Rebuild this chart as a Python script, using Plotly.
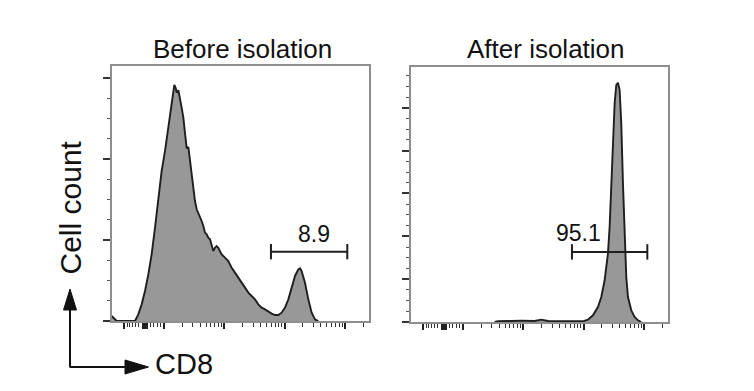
import numpy as np
import plotly.graph_objects as go

# ---------------- data ----------------
# x in display units of a logicle-like CD8 axis (decade k at x = k)
BEFORE_X = [1.132, 1.176, 1.215, 1.519, 1.574, 1.630, 1.685, 1.740, 1.795, 1.851, 1.906, 1.961,
            2.017, 2.072, 2.127, 2.155, 2.171, 2.193, 2.210, 2.238, 2.265, 2.293, 2.321, 2.348,
            2.376, 2.404, 2.431, 2.459, 2.486, 2.514, 2.542, 2.569, 2.597, 2.625, 2.652, 2.680,
            2.708, 2.735, 2.763, 2.790, 2.818, 2.846, 2.873, 2.901, 2.929, 2.956, 3.011, 3.067,
            3.094, 3.122, 3.177, 3.233, 3.288, 3.343, 3.399, 3.454, 3.509, 3.564, 3.620, 3.675,
            3.730, 3.786, 3.841, 3.896, 3.951, 4.007, 4.062, 4.117, 4.173, 4.228, 4.256, 4.283,
            4.338, 4.394, 4.449, 4.504, 4.559]
BEFORE_Y = [6.2, 3.3, 0, 0, 8.2, 20.6, 37, 57.6, 82.3, 115.2, 148.1, 185.2,
            209.9, 238.7, 267.5, 284, 291.4, 288, 281.9, 284.8, 275.7, 263.4, 251, 230.5,
            213.2, 214.8, 197.5, 181.1, 164.6, 148.1, 137.9, 133.7, 129.6, 123.5, 117.3, 109.1,
            107, 102.9, 100.8, 92.6, 86.4, 90.5, 92.6, 90.5, 86.4, 82.3, 78.2, 74.1,
            70, 65.8, 59.7, 53.5, 47.3, 41.2, 35, 30.9, 26.7, 20.6, 16.5, 14.4,
            11.5, 9.1, 7.4, 7.4, 10.3, 16.5, 26.7, 41.2, 55.6, 63.8, 65, 61.7,
            47.3, 26.7, 10.3, 2, 0]

AFTER_X = [2.525, 2.580, 2.801, 2.967, 3.188, 3.298, 3.409, 3.630, 3.851, 3.990, 4.072, 4.155,
           4.238, 4.294, 4.349, 4.404, 4.432, 4.459, 4.487, 4.515, 4.542, 4.570, 4.598, 4.625,
           4.653, 4.681, 4.708, 4.736, 4.791, 4.846, 4.902, 4.957]
AFTER_Y = [0, 1.6, 2.3, 3.1, 2.3, 5.5, 2.3, 2.3, 1.6, 1.6, 5.5, 15.6,
           35, 58.4, 97.4, 159.7, 222, 307.6, 408.9, 510.1, 553, 558.4, 541.3, 463.4,
           323.2, 190.8, 105.1, 58.4, 27.3, 11.7, 3.9, 0]

GATE_BEFORE_X = [3.774, 5.040]
GATE_BEFORE_Y = [85.6, 85.6]
GATE_AFTER_X = [3.807, 5.057]
GATE_AFTER_Y = [163.6, 163.6]

LABEL_BEFORE = "8.9"
LABEL_BEFORE_POS = (4.487, 108)
LABEL_AFTER = "95.1"
LABEL_AFTER_POS = (3.912, 207)

TITLES = ["Before isolation", "After isolation"]
Y_LABEL = "Cell count"
X_LABEL = "CD8"

# axis ticks
X_MAJOR = [1.337, 1.650, 1.667, 1.684, 1.701, 1.718, 2, 3, 4, 5]
X_MINOR_LOW = [1.393, 1.436, 1.476, 1.531, 1.575, 1.779, 1.834, 1.891, 1.945]
X_RANGE = [1.1376, 5.40]
Y_RANGE_BEFORE = [0, 314.8]
Y_RANGE_AFTER = [0, 595]

x_minor = list(X_MINOR_LOW)
for k in (2, 3, 4):
    for m in range(2, 10):
        x_minor.append(k + float(np.log10(m)))
x_minor.append(5 + float(np.log10(2)))

# ---------------- layout geometry (window pixels) ----------------
PAGE_W, PAGE_H = 754, 391
BODY = 8  # default page margin around the plot div
W, H = PAGE_W - BODY, PAGE_H - BODY
def PX(px):
    return (px - BODY) / W
def PY(py):
    return 1 - (py - BODY) / H

FONT = "Liberation Sans, Arial, sans-serif"
FILL = "#989898"
LINE = "#1e1e1e"

fig = go.Figure()

fig.add_trace(go.Scatter(x=BEFORE_X, y=BEFORE_Y, mode="lines", fill="tozeroy",
                         fillcolor=FILL, line=dict(color=LINE, width=1.9),
                         xaxis="x", yaxis="y", hoverinfo="skip"))
fig.add_trace(go.Scatter(x=AFTER_X, y=AFTER_Y, mode="lines", fill="tozeroy",
                         fillcolor=FILL, line=dict(color=LINE, width=1.9),
                         xaxis="x2", yaxis="y2", hoverinfo="skip"))

gate_style = dict(mode="lines+markers", line=dict(color=LINE, width=2),
                  marker=dict(symbol="line-ns-open", size=11,
                              line=dict(color=LINE, width=2), color=LINE),
                  hoverinfo="skip")
fig.add_trace(go.Scatter(x=GATE_BEFORE_X, y=GATE_BEFORE_Y, xaxis="x", yaxis="y", **gate_style))
fig.add_trace(go.Scatter(x=GATE_AFTER_X, y=GATE_AFTER_Y, xaxis="x2", yaxis="y2", **gate_style))

def xaxis_cfg(domain):
    return dict(domain=domain, range=X_RANGE, showgrid=False, zeroline=False,
                showline=True, linecolor="#8e8e8e", linewidth=2, mirror=True,
                ticks="outside", ticklen=6, tickwidth=2, tickcolor="#222",
                tickmode="array", tickvals=X_MAJOR, showticklabels=False,
                minor=dict(tickmode="array", tickvals=x_minor, ticks="outside",
                           ticklen=3.5, tickwidth=1.3, tickcolor="#333", showgrid=False),
                layer="below traces", fixedrange=True)

def yaxis_cfg(domain, rng, anchor, majors):
    return dict(domain=domain, range=rng, anchor=anchor, showgrid=False, zeroline=False,
                showline=True, linecolor="#8e8e8e", linewidth=2, mirror=True,
                ticks="outside", ticklen=7, tickwidth=2, tickcolor="#333",
                tickmode="array", tickvals=majors, showticklabels=False,
                minor=dict(tick0=0, dtick=25, ticks="outside", ticklen=3.5,
                           tickwidth=1.2, tickcolor="#555", showgrid=False),
                layer="below traces", fixedrange=True)

fig.update_layout(
    width=W, height=H,
    margin=dict(l=0, r=0, t=0, b=0),
    paper_bgcolor="white", plot_bgcolor="white",
    showlegend=False,
    xaxis=dict(**xaxis_cfg([PX(112), PX(369)]), anchor="y"),
    yaxis=yaxis_cfg([PY(321), PY(66)], Y_RANGE_BEFORE, "x", [0, 100, 200, 300]),
    xaxis2=dict(**xaxis_cfg([PX(411), PX(668)]), anchor="y2"),
    yaxis2=yaxis_cfg([PY(322), PY(67)], Y_RANGE_AFTER, "x2", [0, 100, 200, 300, 400, 500]),
)

ann = []
ann.append(dict(text=TITLES[0], x=PX(242), y=PY(49), xref="paper", yref="paper",
                xanchor="center", yanchor="middle", showarrow=False,
                font=dict(family=FONT, size=26, color="#111")))
ann.append(dict(text=TITLES[1], x=PX(546), y=PY(49), xref="paper", yref="paper",
                xanchor="center", yanchor="middle", showarrow=False,
                font=dict(family=FONT, size=26, color="#111")))
ann.append(dict(text=Y_LABEL, x=PX(70), y=PY(207.5), xref="paper", yref="paper",
                xanchor="center", yanchor="middle", showarrow=False, textangle=-90,
                font=dict(family=FONT, size=30, color="#111")))
ann.append(dict(text=X_LABEL, x=PX(153), y=PY(364), xref="paper", yref="paper",
                xanchor="left", yanchor="middle", showarrow=False,
                font=dict(family=FONT, size=29, color="#111")))
ann.append(dict(text=LABEL_BEFORE, x=LABEL_BEFORE_POS[0], y=LABEL_BEFORE_POS[1],
                xref="x", yref="y", xanchor="center", yanchor="middle", showarrow=False,
                font=dict(family=FONT, size=23, color="#111")))
ann.append(dict(text=LABEL_AFTER, x=LABEL_AFTER_POS[0], y=LABEL_AFTER_POS[1],
                xref="x2", yref="y2", xanchor="center", yanchor="middle", showarrow=False,
                font=dict(family=FONT, size=23, color="#111")))
fig.update_layout(annotations=ann)

# axis-direction arrows (decorations)
def path(points):
    return "M " + " L ".join(f"{PX(x):.5f},{PY(y):.5f}" for x, y in points) + " Z"

shapes = [
    dict(type="line", xref="paper", yref="paper", x0=PX(70), y0=PY(367.5), x1=PX(70), y1=PY(307),
         line=dict(color="#111", width=2)),
    dict(type="line", xref="paper", yref="paper", x0=PX(70), y0=PY(367), x1=PX(128), y1=PY(367),
         line=dict(color="#111", width=2)),
    dict(type="path", xref="paper", yref="paper",
         path=path([(70, 289), (63.5, 310), (76.5, 310)]),
         fillcolor="#111", line=dict(color="#111", width=1)),
    dict(type="path", xref="paper", yref="paper",
         path=path([(148.5, 367), (125, 360), (125, 374)]),
         fillcolor="#111", line=dict(color="#111", width=1)),
]
fig.update_layout(shapes=shapes)

fig.write_html("out.html")
